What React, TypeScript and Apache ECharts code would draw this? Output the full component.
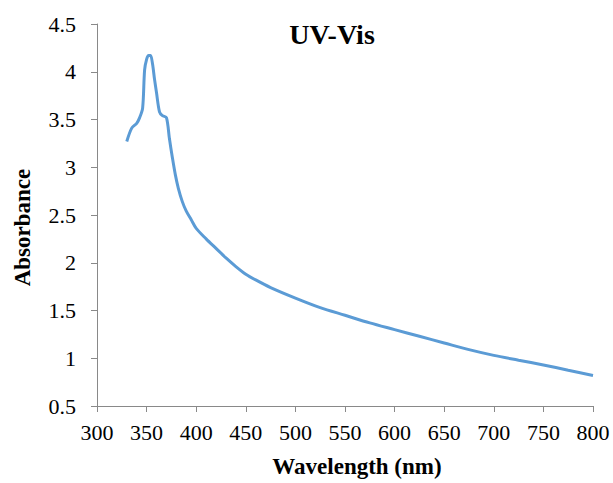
import React, { useEffect, useRef } from "react";
import * as echarts from "echarts";

const wavelength = [330, 335, 340, 343, 346, 348, 350, 352, 354, 356, 358, 360, 363, 366, 370, 373, 376, 379, 382, 386, 390, 395, 400, 410, 420, 430, 440, 450, 460, 475, 500, 525, 550, 575, 600, 625, 650, 675, 700, 725, 750, 775, 800];
const absorbance = [3.27, 3.41, 3.46, 3.52, 3.62, 4.02, 4.13, 4.17, 4.17, 4.08, 3.92, 3.78, 3.58, 3.54, 3.52, 3.3, 3.1, 2.92, 2.78, 2.64, 2.54, 2.45, 2.36, 2.25, 2.15, 2.05, 1.96, 1.88, 1.82, 1.74, 1.63, 1.53, 1.45, 1.37, 1.3, 1.23, 1.16, 1.09, 1.03, 0.98, 0.93, 0.875, 0.82];

const xTicks = { min: 300, max: 800, interval: 50 };
const yTicks = { min: 0.5, max: 4.5, interval: 0.5 };

export default function App() {
  const ref = useRef<HTMLDivElement>(null);
  useEffect(() => {
    const chart = echarts.init(ref.current!, null, { renderer: "svg" });
    const font = "Times New Roman, serif";
    chart.setOption({
      animation: false,
      backgroundColor: "#ffffff",
      textStyle: { fontFamily: font },
      title: {
        text: "UV-Vis",
        left: 327,
        textAlign: "center",
        top: 15,
        textStyle: { fontFamily: font, fontSize: 28, fontWeight: "bold", color: "#000" },
      },
      grid: { left: 97, right: 20, top: 24, bottom: 74 },
      xAxis: {
        type: "value",
        min: xTicks.min,
        max: xTicks.max,
        interval: xTicks.interval,
        name: "Wavelength (nm)",
        nameLocation: "middle",
        nameGap: 49,
        nameTextStyle: { fontFamily: font, fontSize: 23, fontWeight: "bold", color: "#000", padding: [0, 0, 0, 24] },
        axisLine: { show: true, lineStyle: { color: "#898989", width: 1 } },
        axisTick: { show: true, length: 6, lineStyle: { color: "#898989" } },
        splitLine: { show: false },
        axisLabel: { fontFamily: font, fontSize: 22, color: "#000", margin: 15 },
      },
      yAxis: {
        type: "value",
        min: yTicks.min,
        max: yTicks.max,
        interval: yTicks.interval,
        name: "Absorbance",
        nameLocation: "middle",
        nameRotate: 90,
        nameGap: 63,
        nameTextStyle: { fontFamily: font, fontSize: 23, fontWeight: "bold", color: "#000", padding: [0, 25, 0, 0] },
        axisLine: { show: true, lineStyle: { color: "#898989", width: 1 } },
        axisTick: { show: true, length: 6, lineStyle: { color: "#898989" } },
        splitLine: { show: false },
        axisLabel: { fontFamily: font, fontSize: 22, color: "#000", margin: 21 },
      },
      series: [
        {
          type: "line",
          data: wavelength.map((w, i) => [w, absorbance[i]]),
          showSymbol: false,
          smooth: 0.3,
          lineStyle: { color: "#5b9bd5", width: 3 },
        },
      ],
    });
    return () => chart.dispose();
  }, []);
  return <div ref={ref} style={{ width: 613, height: 483, position: "absolute", left: 0, top: 0 }} />;
}
